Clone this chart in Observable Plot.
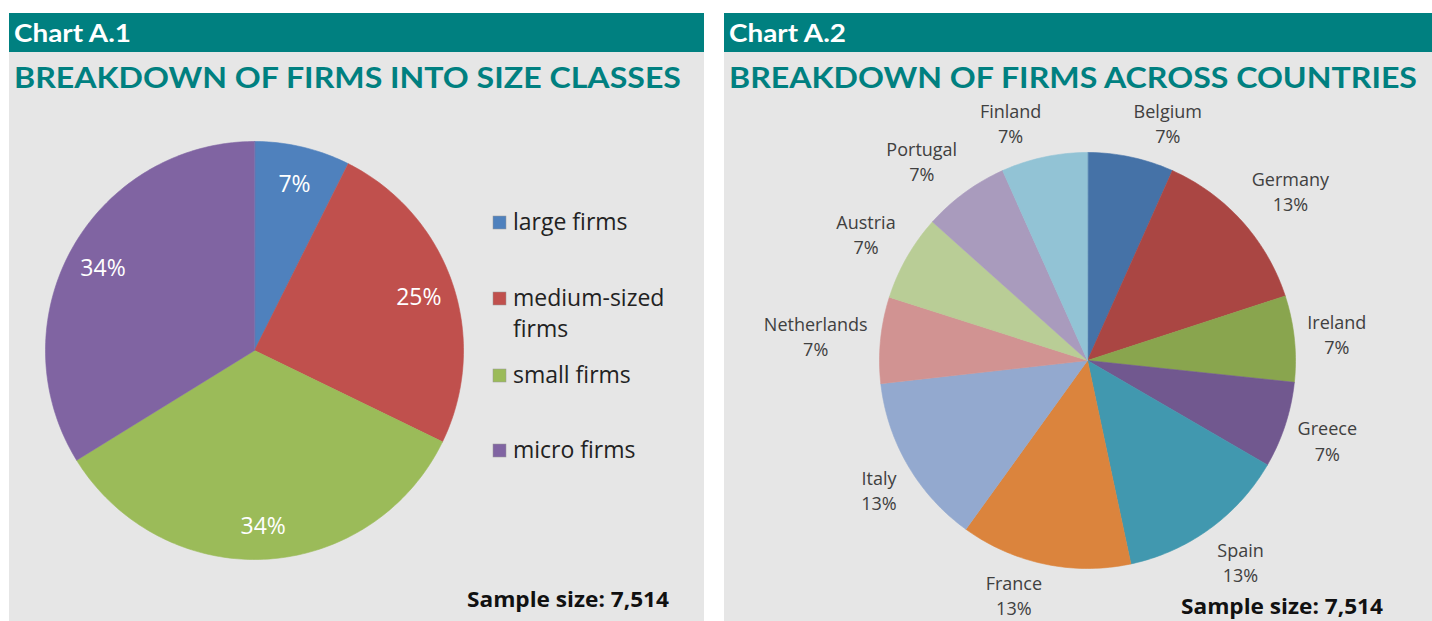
<!DOCTYPE html>
<html><head><meta charset="utf-8">
<script src="https://cdn.jsdelivr.net/npm/d3@7"></script>
<script src="https://cdn.jsdelivr.net/npm/@observablehq/plot@0.6"></script>
<style>
body{margin:0;background:#fff;width:1432px;height:621px;overflow:hidden;position:relative;font-family:'Open Sans',sans-serif}
#bg{position:absolute;left:0;top:0}
.chart{position:absolute}
</style></head><body>
<svg id="bg" width="1432" height="621"></svg>
<div id="c1" class="chart" style="left:9px;top:100px"></div>
<div id="c2" class="chart" style="left:724px;top:100px"></div>
<script>
// ---- data ----
const chartIds = ["Chart A.1", "Chart A.2"];
const chartTitles = ["BREAKDOWN OF FIRMS INTO SIZE CLASSES", "BREAKDOWN OF FIRMS ACROSS COUNTRIES"];
const sampleNote = "Sample size: 7,514";

const sizeClasses = ["large firms", "medium-sized firms", "small firms", "micro firms"];
const sizeShares = [7.4, 24.8, 34.0, 33.8];
const sizeColors = ["#4f81bd", "#c0504d", "#9bbb59", "#8064a2"];

const countries = ["Belgium", "Germany", "Ireland", "Greece", "Spain", "France", "Italy", "Netherlands", "Austria", "Portugal", "Finland"];
const countryShares = [6.7, 13.3, 6.7, 6.7, 13.3, 13.3, 13.3, 6.7, 6.7, 6.7, 6.7];
const countryColors = ["#4572a7", "#aa4643", "#89a54e", "#71588f", "#4198af", "#db843d", "#93a9cf", "#d19392", "#b9cd96", "#a99bbd", "#92c3d5"];

// ---- helpers ----
function slices(names, values) {
  const total = d3.sum(values);
  let acc = 0;
  return names.map((n, i) => {
    const a0 = acc / total * 2 * Math.PI; acc += values[i];
    const a1 = acc / total * 2 * Math.PI;
    return {name: n, value: values[i], a0, a1, mid: (a0 + a1) / 2};
  });
}
function polygons(sl) {
  const pts = [];
  for (const s of sl) {
    pts.push({name: s.name, x: 0, y: 0});
    const n = Math.max(2, Math.ceil((s.a1 - s.a0) / (Math.PI / 180)));
    for (let k = 0; k <= n; k++) {
      const a = s.a0 + (s.a1 - s.a0) * k / n;
      pts.push({name: s.name, x: Math.sin(a), y: Math.cos(a)});
    }
  }
  return pts;
}
const pct = v => Math.round(v) + "%";

// ---- background, headers, titles ----
const bg = d3.select("#bg");
const panels = [{x: 9, w: 695}, {x: 724, w: 708}];
const titleWidths = [667, 688];
panels.forEach((p, i) => {
  bg.append("rect").attr("x", p.x).attr("y", 52).attr("width", p.w).attr("height", 569).attr("fill", "#e6e6e6");
  bg.append("rect").attr("x", p.x).attr("y", 13).attr("width", p.w).attr("height", 39).attr("fill", "#008080");
  bg.append("text").attr("x", p.x + 5).attr("y", 42).text(chartIds[i])
    .attr("fill", "#fff").attr("font-family", "Lato").attr("font-weight", 700).attr("font-size", 25)
    .attr("textLength", 117).attr("lengthAdjust", "spacingAndGlyphs");
  bg.append("text").attr("x", p.x + 5).attr("y", 88).text(chartTitles[i])
    .attr("fill", "#008080").attr("font-family", "Lato").attr("font-weight", 700).attr("font-size", 29)
    .attr("textLength", titleWidths[i]).attr("lengthAdjust", "spacingAndGlyphs");
});
// sample notes
bg.append("text").attr("x", 467).attr("y", 607).text(sampleNote)
  .attr("font-family", "Open Sans").attr("font-weight", 700).attr("font-size", 20.5).attr("fill", "#111")
  .attr("textLength", 202).attr("lengthAdjust", "spacingAndGlyphs");
bg.append("text").attr("x", 1181).attr("y", 614).text(sampleNote)
  .attr("font-family", "Open Sans").attr("font-weight", 700).attr("font-size", 20.5).attr("fill", "#111")
  .attr("textLength", 202).attr("lengthAdjust", "spacingAndGlyphs");

// legend for chart A.1
const legendBase = [230, 306, 383, 458];
sizeClasses.forEach((c, i) => {
  bg.append("rect").attr("x", 493).attr("y", legendBase[i] - 14).attr("width", 13).attr("height", 13)
    .attr("fill", sizeColors[i]).attr("stroke", "#999").attr("stroke-width", 0.5);
  const parts = c === "medium-sized firms" ? ["medium-sized", "firms"] : [c];
  parts.forEach((t, j) => {
    bg.append("text").attr("x", 513).attr("y", legendBase[i] + j * 31).text(t)
      .attr("font-family", "Open Sans").attr("font-size", 23).attr("fill", "#222");
  });
});

// ---- Chart A.1 ----
const s1 = slices(sizeClasses, sizeShares);
document.getElementById("c1").append(Plot.plot({
  width: 695, height: 521, marginLeft: 36, marginRight: 241, marginTop: 41, marginBottom: 62,
  x: {domain: [-1, 1], axis: null}, y: {domain: [-1, 1], axis: null},
  color: {domain: sizeClasses, range: sizeColors},
  style: {background: "none", overflow: "visible"},
  marks: [
    Plot.line(polygons(s1), {x: "x", y: "y", z: "name", fill: "name", stroke: "name", strokeWidth: 0.6, curve: "linear-closed"}),
    Plot.text(s1, {x: d => 0.83 * Math.sin(d.mid), y: d => 0.83 * Math.cos(d.mid) - 0.015, text: d => pct(d.value),
      fill: "white", fontSize: 23, fontFamily: "Open Sans"})
  ]
}));

// ---- Chart A.2 ----
const s2 = slices(countries, countryShares);
const R2 = 208, gap = 13, hh = 22, fs2 = 18, bottomRoom = 234;
const ctx = document.createElement("canvas").getContext("2d");
ctx.font = fs2 + "px 'Open Sans'";
s2.forEach(s => {
  const ux = Math.sin(s.mid), uy = Math.cos(s.mid);
  const hw = Math.max(ctx.measureText(s.name).width, ctx.measureText(pct(s.value)).width) / 2;
  s.lx = ((R2 + gap) * ux + hw * Math.sign(ux)) / R2;
  s.ly = Math.max(-bottomRoom, (R2 + gap) * uy + hh * Math.max(-1, Math.min(1, 1.6 * uy))) / R2;
});
document.getElementById("c2").append(Plot.plot({
  width: 708, height: 521, marginLeft: 155, marginRight: 137, marginTop: 52, marginBottom: 53,
  x: {domain: [-1, 1], axis: null}, y: {domain: [-1, 1], axis: null},
  color: {domain: countries, range: countryColors},
  style: {background: "none", overflow: "visible"},
  marks: [
    Plot.line(polygons(s2), {x: "x", y: "y", z: "name", fill: "name", stroke: "name", strokeWidth: 0.6, curve: "linear-closed"}),
    Plot.text(s2, {x: "lx", y: "ly", text: d => d.name + "\n" + pct(d.value),
      fill: "#404040", fontSize: fs2, fontFamily: "Open Sans", lineHeight: 1.4})
  ]
}));
</script>
</body></html>
